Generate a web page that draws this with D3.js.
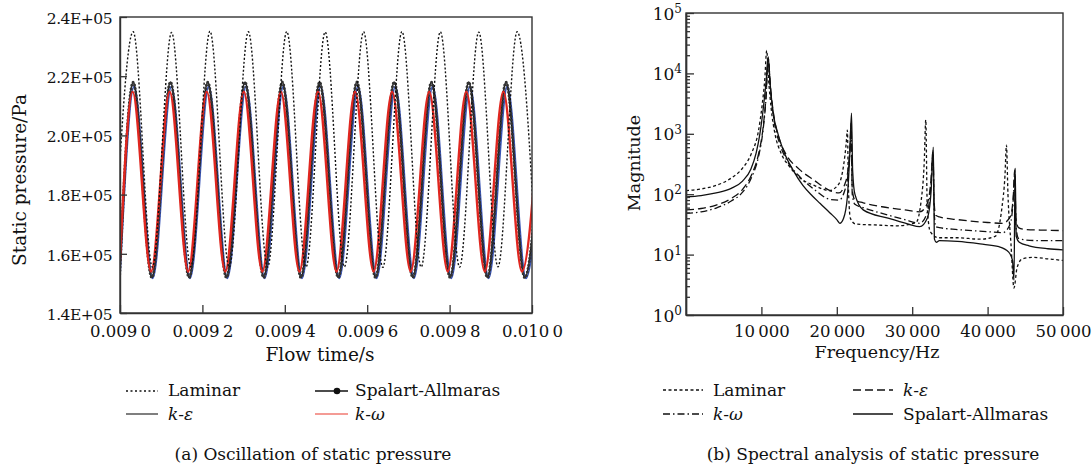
<!DOCTYPE html>
<html>
<head>
<meta charset="utf-8">
<script src="https://cdn.jsdelivr.net/npm/d3@7"></script>
<style>
  body { margin: 0; background: #fff; }
  svg text { font-family: "DejaVu Serif", serif; fill: #111; }
</style>
</head>
<body>
<div id="chart"></div>
<script>
// ---- (a) static pressure vs flow time : extrema ----
const timeTicks = [0.009, 0.0092, 0.0094, 0.0096, 0.0098, 0.01]
const timeTickLabels = ['0.009\u20090', '0.009\u20092', '0.009\u20094', '0.009\u20096', '0.009\u20098', '0.010\u20090']
const pressureTicks = [140000, 160000, 180000, 200000, 220000, 240000]
const pressureTickLabels = ['1.4E+05', '1.6E+05', '1.8E+05', '2.0E+05', '2.2E+05', '2.4E+05']

const laminarTime = [0.0089854, 0.0090320, 0.0090786, 0.0091252, 0.0091718, 0.0092184, 0.0092650, 0.0093116,
  0.0093582, 0.0094048, 0.0094514, 0.0094980, 0.0095446, 0.0095912, 0.0096378, 0.0096844, 0.0097310,
  0.0097776, 0.0098242, 0.0098708, 0.0099174, 0.0099640, 0.0100106]
const laminarPressure = [155500, 235000, 155500, 234800, 155600, 235200, 155400, 235000, 155500, 235100,
  155500, 234900, 155600, 235000, 155400, 235100, 155500, 235000, 155500, 234900, 155600, 235000, 155500]

const saTime = [0.0089990, 0.0090320, 0.0090773, 0.0091225, 0.0091678, 0.0092130, 0.0092583, 0.0093035,
  0.0093488, 0.0093940, 0.0094393, 0.0094845, 0.0095298, 0.0095750, 0.0096203, 0.0096655, 0.0097108,
  0.0097560, 0.0098013, 0.0098465, 0.0098918, 0.0099370, 0.0099823, 0.0100275]
const saPressure = [152000, 218000, 152000, 218000, 152000, 218000, 152000, 218000, 152000, 218000, 152000,
  218000, 152000, 218000, 152000, 218000, 152000, 218000, 152000, 218000, 152000, 218000, 152000, 218000]

const keTime = [0.0089992, 0.0090340, 0.0090793, 0.0091246, 0.0091699, 0.0092152, 0.0092605, 0.0093058,
  0.0093511, 0.0093964, 0.0094417, 0.0094870, 0.0095323, 0.0095776, 0.0096229, 0.0096682, 0.0097135,
  0.0097588, 0.0098041, 0.0098494, 0.0098947, 0.0099400, 0.0099853, 0.0100306]
const kePressure = [151800, 216500, 151800, 216500, 151800, 216500, 151800, 216500, 151800, 216500, 151800,
  216500, 151800, 216500, 151800, 216500, 151800, 216500, 151800, 216500, 151800, 216500, 151800, 216500]

const kwTime = [0.0089985, 0.0090305, 0.0090755, 0.0091205, 0.0091655, 0.0092105, 0.0092555, 0.0093005,
  0.0093455, 0.0093905, 0.0094355, 0.0094805, 0.0095255, 0.0095705, 0.0096155, 0.0096605, 0.0097055,
  0.0097505, 0.0097955, 0.0098405, 0.0098855, 0.0099305, 0.0099755, 0.0100205]
const kwPressure = [154000, 214800, 154000, 214800, 154000, 214800, 154000, 214800, 154000, 214800, 154000,
  214800, 154000, 214800, 154000, 214800, 154000, 214800, 154000, 214800, 154000, 214800, 154000, 214800]

// ---- (b) spectrum ----
const freqTicks = [10000, 20000, 30000, 40000, 50000]
const freqTickLabels = ['10\u2009000', '20\u2009000', '30\u2009000', '40\u2009000', '50\u2009000']
const magTicks = [1, 10, 100, 1000, 10000, 100000]
const magExponents = ['0', '1', '2', '3', '4', '5']

const laminarFreq = [0, 2000, 4000, 6000, 7500, 8700, 9600, 10100, 10450, 10700, 10950, 11300, 11800, 12600,
  13700, 15000, 17000, 19000, 20300, 20900, 21250, 21400, 21550, 21800, 22500, 25000, 28000, 30500, 31200,
  31600, 31800, 32000, 32400, 33500, 36000, 39000, 41000, 41900, 42300, 42500, 42700, 43100, 43500, 43900,
  44600, 46000, 48000, 50000]
const laminarMag = [115, 122, 140, 185, 270, 480, 1100, 3000, 8000, 24000, 8000, 2600, 1000, 480, 290, 190,
  140, 115, 150, 300, 700, 1150, 120, 40, 32, 31, 30, 34, 80, 350, 1700, 60, 24, 19, 19, 18, 20, 60, 200,
  650, 100, 15, 2.8, 6, 8.5, 9, 8.5, 8]

const keFreq = [0, 2000, 4000, 6000, 7500, 8700, 9600, 10200, 10600, 10900, 11200, 11700, 12400, 13300, 15000,
  17000, 19100, 20300, 21000, 21500, 21750, 21900, 22050, 22400, 23500, 26000, 29000, 31000, 32000, 32500,
  32750, 32900, 33100, 33600, 36000, 40000, 42000, 43000, 43400, 43600, 43750, 44100, 45000, 47000, 50000]
const keMag = [55, 58, 66, 85, 120, 210, 450, 1200, 4000, 18000, 6000, 1800, 800, 450, 260, 170, 115, 105,
  140, 260, 600, 1500, 120, 80, 72, 62, 55, 51, 70, 180, 520, 80, 45, 42, 38, 34, 33, 42, 90, 250, 40, 28,
  26, 25.5, 25]

const kwFreq = [0, 2000, 4000, 6000, 7500, 8700, 9600, 10200, 10600, 10900, 11200, 11700, 12400, 13300, 15000,
  17000, 19100, 20300, 21000, 21500, 21750, 21900, 22050, 22400, 23500, 26000, 29000, 31000, 32000, 32500,
  32750, 32900, 33100, 33600, 36000, 40000, 42000, 43000, 43400, 43600, 43750, 44100, 45000, 47000, 50000]
const kwMag = [48, 51, 59, 77, 108, 190, 410, 1100, 3700, 17000, 5500, 1600, 700, 380, 200, 120, 82, 80, 110,
  220, 520, 1300, 100, 68, 60, 48, 38, 33, 50, 150, 480, 60, 29, 28, 26, 24, 23, 32, 80, 220, 30, 18.5,
  17.5, 17, 17]

const saFreq = [0, 2000, 4000, 6000, 7500, 8600, 9300, 9800, 10300, 10650, 10900, 11150, 11500, 12200, 13000,
  14200, 15500, 16700, 17800, 19100, 20000, 20400, 20900, 21400, 21700, 21950, 22100, 22400, 23500, 26800,
  29500, 31000, 32000, 32500, 32800, 32950, 33200, 33600, 36000, 39000, 41500, 42800, 43300, 43500, 43650,
  43800, 44200, 45500, 48000, 50000]
const saMag = [90, 95, 105, 125, 165, 260, 480, 1000, 3000, 8000, 19000, 7000, 2500, 1000, 500, 250, 140, 95,
  70, 49, 38, 33, 40, 90, 400, 2200, 250, 100, 55, 40, 32, 29, 40, 110, 600, 18, 16, 17, 16.5, 15, 13.5, 11,
  8, 3.8, 270, 20, 16, 14, 12.5, 12]

const width = 1092
const height = 467

let svg = d3
  .select('#chart')
  .append('svg')
  .attr('width', width)
  .attr('height', height)

const zip = (xs, ys) => xs.map((x, i) => ({ x: x, y: ys[i] }))

// ================= left panel =================
const xTime = d3.scaleLinear().domain([0.009, 0.010]).range([120, 532])
const yPress = d3.scaleLinear().domain([140000, 240000]).range([313, 17])

svg.append('clipPath').attr('id', 'clip-a')
  .append('rect').attr('x', 120).attr('y', 17).attr('width', 412).attr('height', 296)

const pressLine = d3.line()
  .x(d => xTime(d.x))
  .y(d => yPress(d.y))
  .curve(d3.curveMonotoneX)

let plotA = svg.append('g').attr('clip-path', 'url(#clip-a)')

// k-epsilon (blue)
plotA.append('path')
  .attr('d', pressLine(zip(keTime, kePressure)))
  .attr('fill', 'none')
  .attr('stroke', '#3a55b5')
  .attr('stroke-width', 2.2)

// Spalart-Allmaras (black with dense markers)
plotA.append('path')
  .attr('d', pressLine(zip(saTime, saPressure)))
  .attr('fill', 'none')
  .attr('stroke', '#111')
  .attr('stroke-width', 1.6)
plotA.append('path')
  .attr('d', pressLine(zip(saTime, saPressure)))
  .attr('fill', 'none')
  .attr('stroke', '#333')
  .attr('stroke-width', 3)
  .attr('stroke-linecap', 'round')
  .attr('stroke-dasharray', '0,3.5')

// k-omega (red)
plotA.append('path')
  .attr('d', pressLine(zip(kwTime, kwPressure)))
  .attr('fill', 'none')
  .attr('stroke', '#e0261f')
  .attr('stroke-width', 2.4)

// laminar (dotted)
plotA.append('path')
  .attr('d', pressLine(zip(laminarTime, laminarPressure)))
  .attr('fill', 'none')
  .attr('stroke', '#111')
  .attr('stroke-width', 1.4)
  .attr('stroke-dasharray', '2,2')

// axes
let xAxisA = svg.append('g')
  .attr('transform', 'translate(0,313)')
  .call(d3.axisBottom(xTime).tickValues(timeTicks).tickSizeInner(-8).tickSizeOuter(0).tickPadding(12)
    .tickFormat((d, i) => timeTickLabels[i]))
let yAxisA = svg.append('g')
  .attr('transform', 'translate(120,0)')
  .call(d3.axisLeft(yPress).tickValues(pressureTicks).tickSizeInner(-7).tickSizeOuter(0).tickPadding(8)
    .tickFormat((d, i) => pressureTickLabels[i]))

svg.append('rect')
  .attr('x', 120).attr('y', 17).attr('width', 412).attr('height', 296)
  .attr('fill', 'none').attr('stroke', '#333').attr('stroke-width', 1.4)

svg.append('text')
  .attr('transform', 'translate(26,180) rotate(-90)')
  .attr('text-anchor', 'middle')
  .attr('font-size', 18.5)
  .text('Static pressure/Pa')
svg.append('text')
  .attr('x', 320).attr('y', 361)
  .attr('text-anchor', 'middle')
  .attr('font-size', 18.5)
  .text('Flow time/s')

// ================= right panel =================
const xFreq = d3.scaleLinear().domain([0, 50000]).range([686, 1063])
const yMag = d3.scaleLog().domain([1, 100000]).range([315, 13])

svg.append('clipPath').attr('id', 'clip-b')
  .append('rect').attr('x', 686).attr('y', 13).attr('width', 377).attr('height', 302)

const magLine = d3.line()
  .x(d => xFreq(d.x))
  .y(d => yMag(d.y))
  .curve(d3.curveMonotoneX)

let plotB = svg.append('g').attr('clip-path', 'url(#clip-b)')

const spectra = [
  { key: 'k-omega', f: kwFreq, m: kwMag, dash: '7,3,1.5,3' },
  { key: 'k-epsilon', f: keFreq, m: keMag, dash: '8,4' },
  { key: 'laminar', f: laminarFreq, m: laminarMag, dash: '3,2.5' },
  { key: 'sa', f: saFreq, m: saMag, dash: null }
]

plotB.selectAll('path')
  .data(spectra)
  .enter()
  .append('path')
  .attr('d', d => magLine(zip(d.f, d.m)))
  .attr('fill', 'none')
  .attr('stroke', '#111')
  .attr('stroke-width', 1.3)
  .attr('stroke-dasharray', d => d.dash)

let xAxisB = svg.append('g')
  .attr('transform', 'translate(0,315)')
  .call(d3.axisBottom(xFreq).tickValues(freqTicks).tickSizeInner(-8).tickSizeOuter(0).tickPadding(10)
    .tickFormat((d, i) => freqTickLabels[i]))

// minor log ticks
let minorTicks = []
magTicks.slice(0, -1).forEach(p => {
  for (let k = 2; k <= 9; k++) minorTicks.push(p * k)
})
svg.append('g')
  .attr('transform', 'translate(686,0)')
  .call(d3.axisLeft(yMag).tickValues(minorTicks).tickSizeInner(-4).tickSizeOuter(0).tickFormat(''))

let yAxisB = svg.append('g')
  .attr('transform', 'translate(686,0)')
  .call(d3.axisLeft(yMag).tickValues(magTicks).tickSizeInner(-8).tickSizeOuter(0).tickPadding(4)
    .tickFormat(''))

yAxisB.selectAll('.tick text')
  .each(function (d, i) {
    let t = d3.select(this)
    t.append('tspan').text('10')
    t.append('tspan').attr('dy', '-0.55em').attr('font-size', 12).text(magExponents[i])
  })

svg.append('rect')
  .attr('x', 686).attr('y', 13).attr('width', 377).attr('height', 302)
  .attr('fill', 'none').attr('stroke', '#333').attr('stroke-width', 1.4)

svg.append('text')
  .attr('transform', 'translate(640,163) rotate(-90)')
  .attr('text-anchor', 'middle')
  .attr('font-size', 17.5)
  .text('Magnitude')
svg.append('text')
  .attr('x', 877).attr('y', 358)
  .attr('text-anchor', 'middle')
  .attr('font-size', 17.5)
  .text('Frequency/Hz')

// shared axis styling
svg.selectAll('.domain').attr('stroke', '#333').attr('stroke-width', 1.4)
svg.selectAll('.tick line').attr('stroke', '#333').attr('stroke-width', 1.3)
svg.selectAll('.tick text').attr('font-size', 17).attr('font-family', '"DejaVu Serif", serif').attr('fill', '#111')
xAxisA.selectAll('text').attr('font-size', 16.5)
xAxisB.selectAll('text').attr('font-size', 16.5)
yAxisA.selectAll('text').attr('dy', '0.4em').attr('font-size', 15.5).style('letter-spacing', '-0.5px')
yAxisB.selectAll('.tick text').attr('dy', '0.36em')

// ================= legends & captions =================
function labelText(g, x, y, parts) {
  let t = g.append('text').attr('x', x).attr('y', y).attr('font-size', 17)
  parts.forEach(p => {
    t.append('tspan').attr('font-style', p[1] ? 'italic' : 'normal').text(p[0])
  })
}

let legA = svg.append('g')
legA.append('line').attr('x1', 126).attr('x2', 158).attr('y1', 391).attr('y2', 391)
  .attr('stroke', '#111').attr('stroke-width', 1.5).attr('stroke-dasharray', '2,2.5')
labelText(legA, 168, 396, [['Laminar', false]])
legA.append('line').attr('x1', 315).attr('x2', 348).attr('y1', 391).attr('y2', 391)
  .attr('stroke', '#111').attr('stroke-width', 1.3)
legA.append('circle').attr('cx', 337).attr('cy', 391).attr('r', 3.3).attr('fill', '#111')
labelText(legA, 355, 396, [['Spalart-Allmaras', false]])
legA.append('line').attr('x1', 126).attr('x2', 158).attr('y1', 414).attr('y2', 414)
  .attr('stroke', '#555').attr('stroke-width', 1.5)
labelText(legA, 168, 420, [['k', true], ['-', false], ['\u03b5', true]])
legA.append('line').attr('x1', 315).attr('x2', 348).attr('y1', 414).attr('y2', 414)
  .attr('stroke', '#f07a72').attr('stroke-width', 1.5)
labelText(legA, 355, 420, [['k', true], ['-', false], ['\u03c9', true]])

svg.append('text').attr('x', 313).attr('y', 460).attr('text-anchor', 'middle').attr('font-size', 17)
  .text('(a) Oscillation of static pressure')

let legB = svg.append('g')
const legBItems = [
  { x: 663, y: 390, dash: '3,2.5', label: [['Laminar', false]] },
  { x: 853, y: 390, dash: '8,4', label: [['k', true], ['-', false], ['\u03b5', true]] },
  { x: 663, y: 414, dash: '7,3,1.5,3', label: [['k', true], ['-', false], ['\u03c9', true]] },
  { x: 853, y: 414, dash: null, label: [['Spalart-Allmaras', false]] }
]
legBItems.forEach(d => {
  legB.append('line').attr('x1', d.x).attr('x2', d.x + 40).attr('y1', d.y).attr('y2', d.y)
    .attr('stroke', '#111').attr('stroke-width', 1.3).attr('stroke-dasharray', d.dash)
  labelText(legB, d.x + 50, d.y + 6, d.label)
})

svg.append('text').attr('x', 873).attr('y', 460).attr('text-anchor', 'middle').attr('font-size', 17)
  .text('(b) Spectral analysis of static pressure')
</script>
</body>
</html>
